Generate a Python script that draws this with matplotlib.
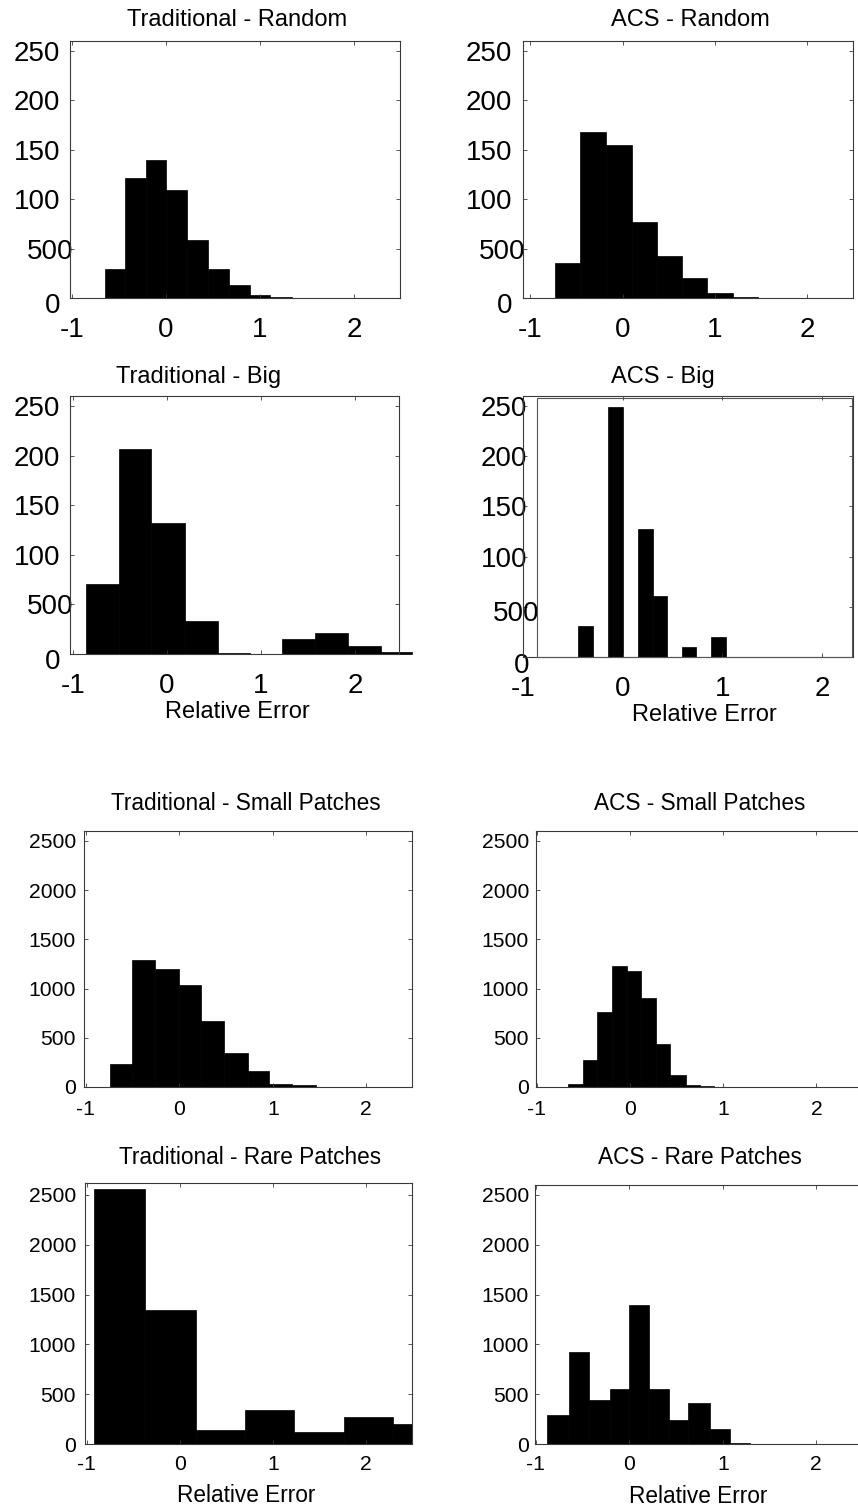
import numpy as np
import matplotlib
matplotlib.use("Agg")
import matplotlib.pyplot as plt
from matplotlib.patches import Rectangle
import matplotlib.transforms as mtrans

plt.rcParams['font.family'] = ['Liberation Sans', 'DejaVu Sans']

W, H = 858, 1510

# ---------------- data ----------------
trad_random_edges = [-0.65, -0.43, -0.21, 0.00, 0.22, 0.45, 0.67, 0.89, 1.11, 1.34]
trad_random_counts = [29, 121, 140, 109, 59, 29, 13, 3, 1]

acs_random_edges = [-0.73, -0.46, -0.18, 0.10, 0.37, 0.65, 0.92, 1.20, 1.47]
acs_random_counts = [35, 168, 155, 77, 42, 20, 5, 1.5]

trad_big_edges = [-0.86, -0.51, -0.17, 0.19, 0.54, 0.89, 1.23, 1.58, 1.93, 2.28, 2.61]
trad_big_counts = [71, 207, 132, 33, 1, 0, 15, 21, 8, 1.7]

acs_big_edges = [-0.45, -0.30, -0.15, 0.00, 0.15, 0.30, 0.44, 0.59, 0.74, 0.89, 1.04]
acs_big_counts = [31, 0, 249, 0, 128, 61, 0, 10, 0, 19.5]

trad_small_edges = [-0.74, -0.51, -0.26, 0.00, 0.23, 0.48, 0.73, 0.96, 1.21, 1.46]
trad_small_counts = [232, 1287, 1196, 1034, 674, 344, 162, 34, 17]

acs_small_edges = [-0.67, -0.51, -0.36, -0.19, -0.03, 0.12, 0.28, 0.43, 0.60, 0.75, 0.90]
acs_small_counts = [34, 270, 758, 1233, 1176, 906, 435, 121, 17, 7]

trad_rare_edges = [-0.92, -0.38, 0.17, 0.70, 1.22, 1.76, 2.29, 2.83]
trad_rare_counts = [2563, 1347, 141, 338, 121, 268, 198]

acs_rare_edges = [-0.88, -0.65, -0.43, -0.21, 0.00, 0.21, 0.42, 0.63, 0.86, 1.08, 1.29]
acs_rare_counts = [287, 920, 443, 557, 1393, 557, 243, 410, 153, 10]

x_ticks = [-1, 0, 1, 2]
x_ticklabels = ['-1', '0', '1', '2']
y_ticks_top = [0, 50, 100, 150, 200, 250]
y_ticklabels_top = ['0', '500', '100', '150', '200', '250']
y_ticks_bottom = [0, 500, 1000, 1500, 2000, 2500]
y_ticklabels_bottom = ['0', '500', '1000', '1500', '2000', '2500']

titles = ['Traditional - Random', 'ACS - Random', 'Traditional - Big', 'ACS - Big',
          'Traditional - Small Patches', 'ACS - Small Patches',
          'Traditional - Rare Patches', 'ACS - Rare Patches']
xlabel_text = 'Relative Error'

# ---------------- figure ----------------
fig = plt.figure(figsize=(W / 100, H / 100), dpi=100)


def make_ax(l, r, t, b):
    return fig.add_axes([l / W, 1 - b / H, (r - l) / W, (b - t) / H])


def style(ax, xlim, ylim, yticks, yticklabels, fs, xpad, ypad):
    ax.set_xlim(*xlim)
    ax.set_ylim(*ylim)
    ax.set_xticks(x_ticks)
    ax.set_xticklabels(x_ticklabels)
    ax.set_yticks(yticks)
    ax.set_yticklabels(yticklabels)
    for s in ax.spines.values():
        s.set_linewidth(0.8)
        s.set_color('#3a3a3a')
    ax.tick_params(direction='in', length=3, width=0.6, top=True, right=True,
                   labelsize=fs, colors='#3a3a3a', labelcolor='black')
    ax.tick_params(axis='x', pad=xpad)
    ax.tick_params(axis='y', pad=ypad)


def shift_label(ax, idx, dx, dy):
    lab = ax.yaxis.get_major_ticks()[idx].label1
    lab.set_transform(lab.get_transform() +
                      mtrans.ScaledTranslation(dx / 100, -dy / 100, fig.dpi_scale_trans))


def bars(ax, edges, counts, clip=True):
    e = np.array(edges)
    ax.bar(e[:-1], counts, width=np.diff(e), align='edge', color='black',
           edgecolor='black', linewidth=0.5, clip_on=clip)


def ftext(x, y, s, fs):
    fig.text(x / W, 1 - y / H, s, ha='center', va='baseline', fontsize=fs)


TOP_FS = 20
BOT_FS = 15.2
BOT_TITLE_FS = 16.3

# Row 1
ax = make_ax(70, 400, 41, 298)
bars(ax, trad_random_edges, trad_random_counts)
style(ax, (-1.02, 2.49), (0, 260), y_ticks_top, y_ticklabels_top, TOP_FS, 13.5, 7.2)
shift_label(ax, 1, 13, 0)
shift_label(ax, 0, 0, 5)

ax = make_ax(523, 853, 41, 298)
bars(ax, acs_random_edges, acs_random_counts)
style(ax, (-1.08, 2.5), (0, 260), y_ticks_top, y_ticklabels_top, TOP_FS, 13.5, 8)
shift_label(ax, 1, 13, 0)
shift_label(ax, 0, 0, 5)

# Row 2
ax = make_ax(70, 399, 396, 654)
bars(ax, trad_big_edges, trad_big_counts, clip=False)
style(ax, (-1.03, 2.47), (0, 260), y_ticks_top, y_ticklabels_top, TOP_FS, 13.5, 7.2)
shift_label(ax, 1, 13, 0)
shift_label(ax, 0, 0, 5)

ax = make_ax(523, 853, 396, 657)
bars(ax, acs_big_edges, acs_big_counts)
style(ax, (-1.0, 2.31), (0, 260), y_ticks_top, y_ticklabels_top, TOP_FS, 14, -3)
shift_label(ax, 1, 12, 4)
shift_label(ax, 0, 2, 6)
fig.patches.append(Rectangle((537 / W, 1 - 657 / H), (852 - 537) / W, (657 - 398) / H,
                             transform=fig.transFigure, fill=False, lw=0.8, ec='#555555'))

# Row 3
ax = make_ax(84, 412, 831, 1087)
bars(ax, trad_small_edges, trad_small_counts)
style(ax, (-1.02, 2.49), (0, 2600), y_ticks_bottom, y_ticklabels_bottom, BOT_FS, 9.5, 5.8)

ax = make_ax(536, 863, 831, 1087)
bars(ax, acs_small_edges, acs_small_counts)
style(ax, (-1.01, 2.5), (0, 2600), y_ticks_bottom, y_ticklabels_bottom, BOT_FS, 9.5, 5)

# Row 4
ax = make_ax(85, 412, 1183, 1444)
bars(ax, trad_rare_edges, trad_rare_counts)
style(ax, (-1.02, 2.49), (0, 2620), y_ticks_bottom, y_ticklabels_bottom, BOT_FS, 8, 6.5)

ax = make_ax(535, 863, 1185, 1444)
bars(ax, acs_rare_edges, acs_rare_counts)
style(ax, (-1.01, 2.5), (0, 2600), y_ticks_bottom, y_ticklabels_bottom, BOT_FS, 8, 4.3)

# Titles
ftext(237, 26, titles[0], 17)
ftext(690, 26, titles[1], 17)
ftext(199, 383, titles[2], 17)
ftext(663, 383, titles[3], 17)
ftext(246, 810, titles[4], BOT_TITLE_FS)
ftext(700, 810, titles[5], BOT_TITLE_FS)
ftext(250, 1164, titles[6], BOT_TITLE_FS)
ftext(700, 1164, titles[7], BOT_TITLE_FS)

# x labels
ftext(237, 718, xlabel_text, 17)
ftext(704, 721, xlabel_text, 17)
ftext(246, 1502, xlabel_text, BOT_TITLE_FS)
ftext(698, 1503, xlabel_text, BOT_TITLE_FS)

fig.savefig('out.png', dpi=100, facecolor='white')
